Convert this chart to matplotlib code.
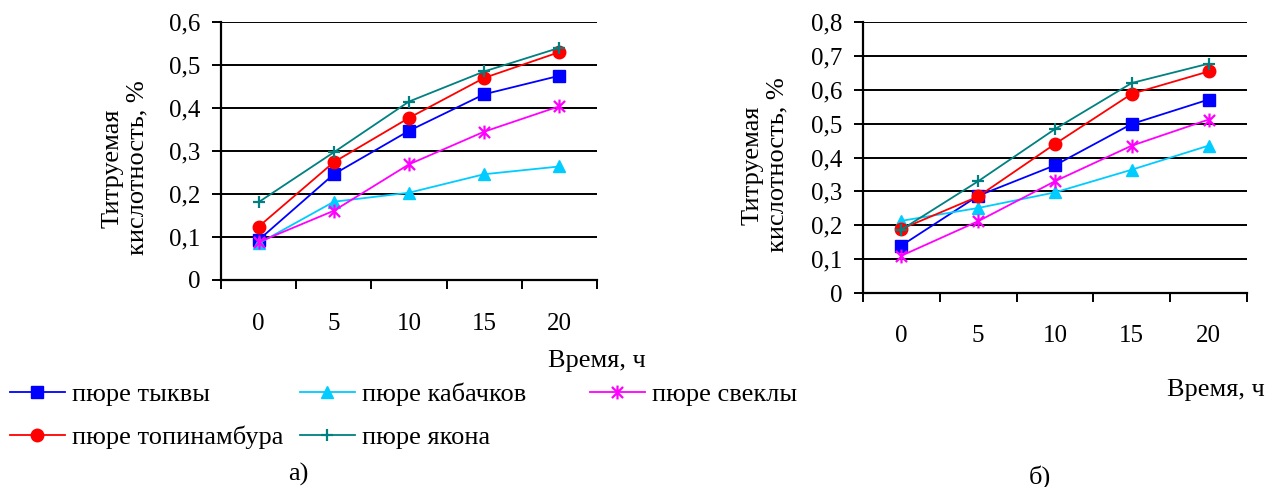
import matplotlib.pyplot as plt
import numpy as np
from matplotlib.path import Path
from matplotlib.ticker import FixedLocator, FuncFormatter

plt.rcParams["font.family"] = ["Liberation Serif", "DejaVu Serif"]

hours = ["0", "5", "10", "15", "20"]
series_names = ["пюре тыквы", "пюре кабачков", "пюре свеклы",
                "пюре топинамбура", "пюре якона"]

# а) titratable acidity, %
a_tykva = [0.093, 0.246, 0.347, 0.432, 0.475]
a_kabachok = [0.085, 0.182, 0.203, 0.246, 0.264]
a_svekla = [0.088, 0.161, 0.269, 0.345, 0.404]
a_topinambur = [0.124, 0.274, 0.377, 0.470, 0.530]
a_yakon = [0.181, 0.297, 0.415, 0.485, 0.540]

# б) titratable acidity, %
b_tykva = [0.140, 0.287, 0.377, 0.499, 0.571]
b_kabachok = [0.213, 0.251, 0.297, 0.364, 0.435]
b_svekla = [0.110, 0.212, 0.330, 0.435, 0.512]
b_topinambur = [0.189, 0.285, 0.440, 0.588, 0.654]
b_yakon = [0.187, 0.330, 0.484, 0.620, 0.677]

# excel-like asterisk: vertical bar plus an X
star = Path([(0, -1), (0, 1), (-0.8, -0.8), (0.8, 0.8), (-0.8, 0.8), (0.8, -0.8)],
            [Path.MOVETO, Path.LINETO] * 3)

styles = [
    dict(color="#0000FF", marker="s", markersize=8),
    dict(color="#00CCFF", marker="^", markersize=9),
    dict(color="#FF00FF", marker=star, markersize=10, markeredgewidth=1.6),
    dict(color="#FF0000", marker="o", markersize=9),
    dict(color="#008080", marker="+", markersize=8, markeredgewidth=1.6),
]

W, H = 1266, 487
fig = plt.figure(figsize=(W / 100, H / 100), dpi=100)


def px_rect(x0, x1, ytop, ybot):
    return [x0 / W, (H - ybot) / H, (x1 - x0) / W, (ybot - ytop) / H]


def fmt_y(v, _):
    return "0" if abs(v) < 1e-9 else f"{v:.1f}".replace(".", ",")


def draw_panel(ax, data, ymax, xpad):
    x = np.arange(len(hours)) + 0.5
    lines = []
    for vals, st in zip(data, styles):
        (ln,) = ax.plot(x, vals, linewidth=1.3, **st)
        lines.append(ln)
    ax.set_xlim(0, len(hours))
    ax.set_ylim(0, ymax)
    ax.set_yticks(np.arange(0, ymax + 0.001, 0.1))
    ax.yaxis.set_major_formatter(FuncFormatter(fmt_y))
    ax.yaxis.grid(True, color="black", linewidth=1.4)
    ax.set_axisbelow(True)

    # category boundaries get the tick marks, labels sit between them
    ax.xaxis.set_major_locator(FixedLocator(np.arange(len(hours) + 1)))
    ax.xaxis.set_minor_locator(FixedLocator(x))
    ax.xaxis.set_major_formatter(FuncFormatter(lambda v, _: ""))
    ax.set_xticklabels(hours, minor=True)
    ax.tick_params(axis="x", which="major", direction="out", length=6.5, width=1.4)
    ax.tick_params(axis="x", which="minor", length=0, pad=xpad, labelsize=18)
    ax.tick_params(axis="y", direction="out", length=6.5, width=1.4, pad=8, labelsize=18)

    for side in ("top", "right"):
        ax.spines[side].set_visible(False)
    for side in ("left", "bottom"):
        ax.spines[side].set_linewidth(1.6)
    return lines


ax_a = fig.add_axes(px_rect(221, 597, 22, 280))
ax_b = fig.add_axes(px_rect(863, 1247, 22, 293))

lines = draw_panel(ax_a, [a_tykva, a_kabachok, a_svekla, a_topinambur, a_yakon], 0.6, 24)
draw_panel(ax_b, [b_tykva, b_kabachok, b_svekla, b_topinambur, b_yakon], 0.8, 23)

ylabel = "Титруемая\nкислотность, %"
fig.text(125 / W, 1 - 168 / H, ylabel, rotation=90, ha="center", va="center",
         fontsize=19, multialignment="center")
fig.text(765 / W, 1 - 165 / H, ylabel, rotation=90, ha="center", va="center",
         fontsize=19, multialignment="center")

fig.text(597 / W, 1 - 361 / H, "Время, ч", ha="center", va="center", fontsize=19)
fig.text(1216 / W, 1 - 390 / H, "Время, ч", ha="center", va="center", fontsize=19)

fig.text(298 / W, 1 - 474 / H, "а)", ha="center", va="center", fontsize=19)
fig.text(1040 / W, 1 - 477 / H, "б)", ha="center", va="center", fontsize=19)

# legend laid out as three columns under panel а)
columns = [([0, 3], 10), ([1, 4], 300), ([2], 590)]
for idx, xpos in columns:
    fig.legend([lines[i] for i in idx], [series_names[i] for i in idx],
               loc="upper left", bbox_to_anchor=(xpos / W, 1 - 383 / H),
               frameon=False, fontsize=19, handlelength=2.08,
               handletextpad=0.27, borderpad=0, borderaxespad=0,
               labelspacing=0.72)

fig.savefig("out.png", dpi=100)
